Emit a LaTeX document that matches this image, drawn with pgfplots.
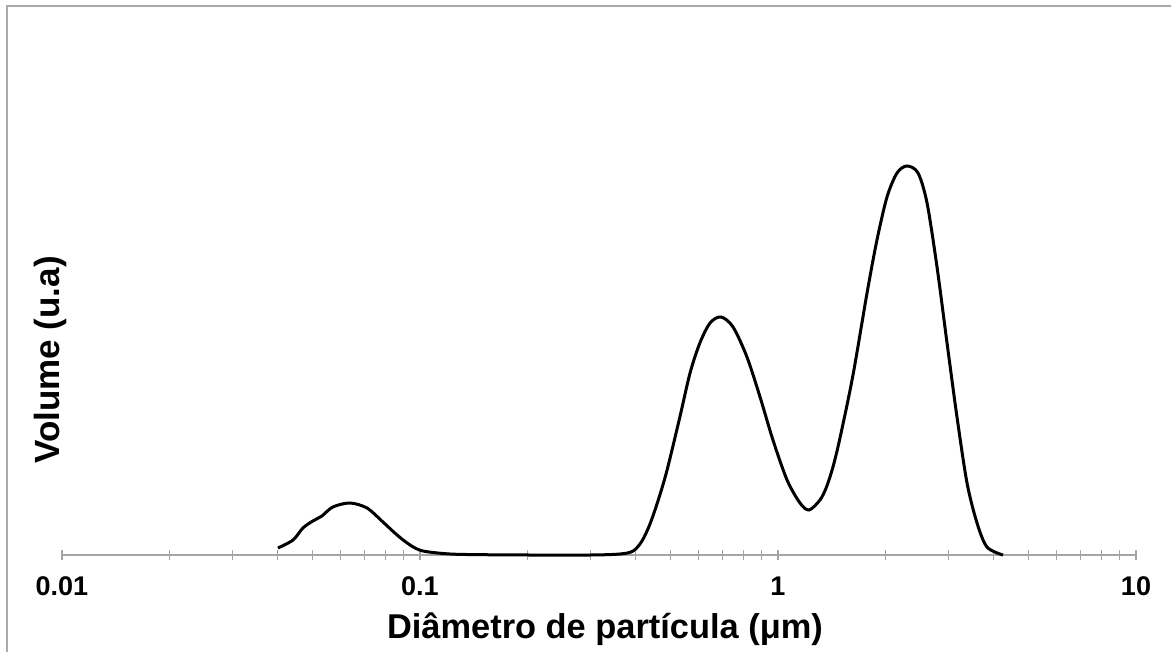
\documentclass[border=0pt]{standalone}
\usepackage{fontspec}
\setmainfont{Liberation Sans}
\usepackage{pgfplots}
\pgfplotsset{compat=1.18}
\definecolor{framegray}{RGB}{170,170,170}
\definecolor{axisgray}{RGB}{165,165,165}

% Particle size distribution (volume vs. diameter)
\pgfplotstableread{
d       v
0.0401  7
0.0442  15
0.0471  27
0.0502  34
0.0532  39
0.0571  48
0.0637  52
0.0711  47
0.0788  33
0.0863  20
0.0938  10
0.1019  4
0.1213  1
0.15    0.3
0.2     0
0.3     0
0.362   1
0.394   4
0.417   14
0.439   31
0.463   55
0.490   85
0.532   138
0.568   182
0.605   212
0.646   232
0.693   238
0.749   228
0.819   198
0.891   158
0.968   115
1.060   75
1.152   52
1.221   45
1.310   55
1.366   68
1.424   88
1.490   117
1.620   180
1.773   262
1.890   315
2.016   358
2.150   382
2.293   389
2.461   382
2.608   352
2.781   288
2.966   212
3.162   138
3.373   72
3.597   32
3.835   8
4.252   0
}\psd

\begin{document}
\begin{tikzpicture}[x=0.5pt,y=0.5pt]
\useasboundingbox (0,0) rectangle (1171,652);
\draw[framegray, line width=1pt] (6.5,0) -- (6.5,645.5) -- (1171,645.5);
\begin{axis}[
  at={(31pt,48.5pt)}, anchor=south west,
  scale only axis, width=537pt, height=260pt,
  xmode=log, xmin=0.01, xmax=10, ymin=0, ymax=520,
  axis x line*=bottom, axis y line=none,
  axis line style={draw=axisgray, line width=0.8pt, -},
  xtick={0.01,0.1,1,10},
  xticklabels={0.01,0.1,1,10},
  minor xtick={0.02,0.03,0.04,0.05,0.06,0.07,0.08,0.09,
               0.2,0.3,0.4,0.5,0.6,0.7,0.8,0.9,
               2,3,4,5,6,7,8,9},
  ytick=\empty,
  tick align=center,
  major tick length=5pt, minor tick length=5pt,
  tick style={draw=axisgray, line width=0.6pt},
  xticklabel style={font=\fontsize{13.5}{16}\selectfont\bfseries, anchor=base, yshift=-18pt},
  clip=false,
]
\addplot[black, line width=1.5pt, smooth, tension=0.5] table[x=d, y=v] {\psd};
\end{axis}
\node[font=\fontsize{17.2}{20}\selectfont\bfseries, anchor=base] at (605,13) {Diâmetro de partícula (μm)};
\node[font=\fontsize{17.5}{20}\selectfont\bfseries, anchor=base, rotate=90] at (59,292) {Volume (u.a)};
\end{tikzpicture}
\end{document}
